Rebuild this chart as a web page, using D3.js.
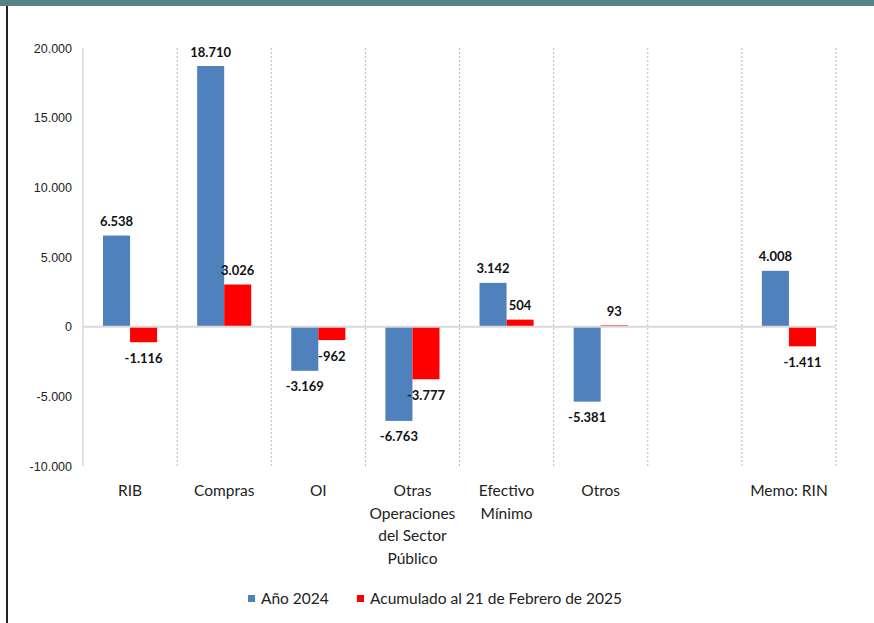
<!DOCTYPE html>
<html>
<head>
<meta charset="utf-8">
<script src="https://cdn.jsdelivr.net/npm/d3@7"></script>
<style>
  html, body { margin: 0; padding: 0; background: #fff; }
  svg { display: block; font-family: Lato, "Open Sans", sans-serif; }
</style>
</head>
<body>
<svg id="chart" width="874" height="623"></svg>
<script>
// Categories (the empty slot keeps a gap before the memo item)
const categories = ["RIB", "Compras", "OI", "Otras Operaciones del Sector Público", "Efectivo Mínimo", "Otros", "", "Memo: RIN"];
const categoryLines = [["RIB"], ["Compras"], ["OI"], ["Otras", "Operaciones", "del Sector", "Público"], ["Efectivo", "Mínimo"], ["Otros"], [], ["Memo: RIN"]];
const seriesNames = ["Año 2024", "Acumulado al 21 de Febrero de 2025"];
const values2024 = [6538, 18710, -3169, -6763, 3142, -5381, null, 4008];
const values2025 = [-1116, 3026, -962, -3777, 504, 93, null, -1411];
const yTicks = [20000, 15000, 10000, 5000, 0, -5000, -10000];
const colors = ["#4F81BD", "#FF0000"];

const locale = d3.formatLocale({ decimal: ",", thousands: ".", grouping: [3], currency: ["", ""], minus: "-" });
const fmt = locale.format(",d");

const svg = d3.select("#chart");

// frame: teal band on top, dark rule on the left
svg.append("rect").attr("x", 0).attr("y", 0).attr("width", 874).attr("height", 6).attr("fill", "#568388");
svg.append("rect").attr("x", 6).attr("y", 6).attr("width", 2).attr("height", 617).attr("fill", "#222");

const plot = { left: 83, right: 836, top: 48, bottom: 466 };

const x0 = d3.scaleBand().domain(categories.map((c, i) => i)).range([plot.left, plot.right]).padding(0);
const x1 = d3.scaleBand().domain([0, 1]).range([0, x0.bandwidth()]).paddingInner(0).paddingOuter(0.74);
const y = d3.scaleLinear().domain([-10000, 20000]).range([plot.bottom, plot.top]);

// category separators
const seps = categories.map((c, i) => x0(i) + x0.bandwidth());
svg.append("g").selectAll("line").data(seps).join("line")
  .attr("x1", d => d).attr("x2", d => d)
  .attr("y1", plot.top).attr("y2", plot.bottom)
  .attr("stroke", "#b8b8b8").attr("stroke-width", 1).attr("stroke-dasharray", "2,2");

// y axis line
svg.append("line").attr("x1", plot.left).attr("x2", plot.left)
  .attr("y1", plot.top).attr("y2", plot.bottom)
  .attr("stroke", "#d9d9d9").attr("stroke-width", 1.5);

// y tick labels
const yAxis = d3.axisLeft(y).tickValues(yTicks).tickFormat(fmt).tickSize(0).tickPadding(11);
const gy = svg.append("g").attr("transform", `translate(${plot.left},0)`).call(yAxis);
gy.select(".domain").remove();
gy.selectAll("text").attr("font-size", 12.5).attr("fill", "#222");

// bars
const seriesVals = [values2024, values2025];
const rows = [];
categories.forEach((c, i) => {
  seriesVals.forEach((vals, s) => {
    if (vals[i] !== null) rows.push({ i, s, v: vals[i] });
  });
});

svg.append("g").selectAll("rect").data(rows).join("rect")
  .attr("x", d => x0(d.i) + x1(d.s))
  .attr("width", x1.bandwidth())
  .attr("y", d => y(Math.max(0, d.v)))
  .attr("height", d => Math.abs(y(d.v) - y(0)))
  .attr("fill", d => colors[d.s]);

// zero line
svg.append("line").attr("x1", plot.left).attr("x2", plot.right)
  .attr("y1", y(0)).attr("y2", y(0))
  .attr("stroke", "#d9d9d9").attr("stroke-width", 2);

// value labels
svg.append("g").selectAll("text").data(rows).join("text")
  .attr("x", d => x0(d.i) + x1(d.s) + x1.bandwidth() / 2)
  .attr("y", d => d.v >= 0 ? y(d.v) - 14 : y(d.v) + 16)
  .attr("dy", "0.35em")
  .attr("text-anchor", "middle")
  .attr("font-size", 13)
  .attr("font-weight", "bold")
  .attr("fill", "#111")
  .text(d => fmt(d.v));

// category labels
const cat = svg.append("g").selectAll("text").data(categoryLines).join("text")
  .attr("x", (d, i) => x0(i) + x0.bandwidth() / 2)
  .attr("y", 491)
  .attr("text-anchor", "middle")
  .attr("font-size", 15.5)
  .attr("fill", "#222");
cat.selectAll("tspan").data(d => d).join("tspan")
  .attr("x", function () { return d3.select(this.parentNode).attr("x"); })
  .attr("dy", (d, k) => k === 0 ? "0.35em" : 22.5)
  .text(d => d);

// legend
const legendX = [248, 357];
const lg = svg.append("g").selectAll("g").data(seriesNames).join("g")
  .attr("transform", (d, i) => `translate(${legendX[i]},599)`);
lg.append("rect").attr("x", 0).attr("y", -4).attr("width", 7).attr("height", 7).attr("fill", (d, i) => colors[i]);
lg.append("text").attr("x", 13).attr("dy", "0.35em").attr("font-size", 15.5).attr("fill", "#222").text(d => d);
</script>
</body>
</html>
